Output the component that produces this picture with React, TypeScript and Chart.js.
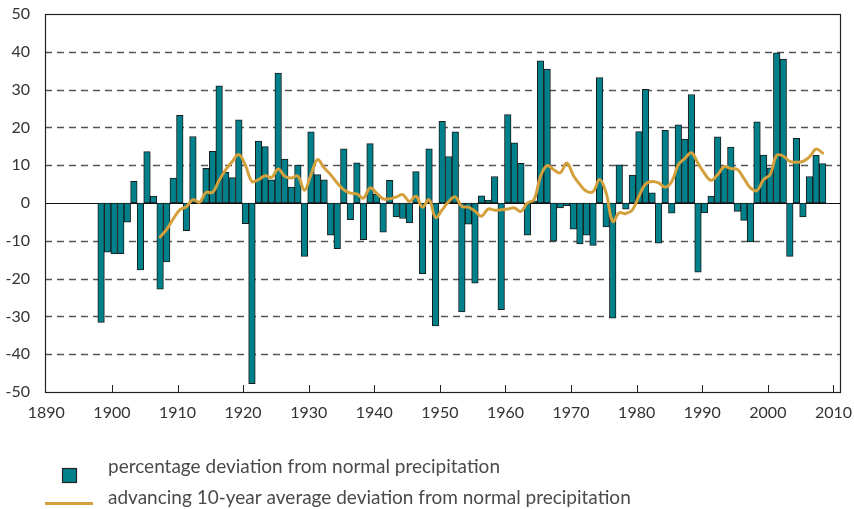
import React, { useEffect, useRef } from "react";
import { Chart, registerables } from "chart.js";

Chart.register(...registerables);

// ---------- data ----------
const firstYear = 1898;
const precipDeviation: number[] = [
  // 1898-1899
  -31.6, -13.0,
  // 1900s
  -13.5, -13.4, -5.1, 5.7, -17.7, 13.6, 1.8, -22.8, -15.6, 6.6,
  // 1910s
  23.2, -7.3, 17.6, 0.3, 9.2, 13.7, 31.0, 8.1, 6.7, 22.0,
  // 1920s
  -5.5, -47.8, 16.4, 14.9, 6.1, 34.4, 11.6, 4.2, 10.0, -14.1,
  // 1930s
  18.8, 7.5, 6.1, -8.5, -12.1, 14.3, -4.4, 10.6, -9.7, 15.7,
  // 1940s
  2.3, -7.7, 6.0, -3.7, -4.1, -5.3, 8.3, -18.7, 14.3, -32.5,
  // 1950s
  21.6, 12.3, 18.8, -28.8, -5.6, -21.2, 1.9, 0.8, 7.0, -28.2,
  // 1960s
  23.4, 15.9, 10.5, -8.5, 0.6, 37.6, 35.4, -10.1, -1.3, -0.7,
  // 1970s
  -6.9, -10.8, -8.5, -11.2, 33.2, -6.3, -30.5, 10.1, -1.6, 7.4,
  // 1980s
  18.9, 30.1, 2.7, -10.6, 19.2, -2.7, 20.7, 16.9, 28.7, -18.3,
  // 1990s
  -2.6, 1.8, 17.5, 9.5, 14.8, -2.2, -4.6, -10.3, 21.5, 12.7,
  // 2000s
  9.3, 39.7, 38.1, -14.1, 17.1, -3.7, 7.0, 12.7, 10.4,
];

const avgFirstYear = 1907;
const tenYearAverage: number[] = [
  // 1907-1909
  -9.0, -7.0, -4.2,
  // 1910s
  -1.8, -1.0, 0.9, 0.2, 2.8, 2.8, 6.0, 8.8, 11.0, 12.8,
  // 1920s
  10.0, 5.7, 6.2, 7.2, 6.8, 9.0, 7.1, 6.6, 7.1, 3.4,
  // 1930s
  7.5, 11.5, 9.3, 7.5, 5.3, 3.5, 2.6, 2.4, 1.3, 4.0,
  // 1940s
  2.6, 1.1, 1.1, 1.6, 2.2, 0.4, 1.8, -1.1, 0.9, -3.8,
  // 1950s
  -1.8, 0.4, 1.6, -0.9, -1.1, -2.2, -3.5, -1.6, -1.9, -1.8,
  // 1960s
  -1.6, -1.3, -2.2, 0.0, 0.9, 7.1, 9.9, 8.8, 8.0, 10.6,
  // 1970s
  7.3, 4.9, 3.1, 3.0, 6.2, 2.6, -4.9, -2.6, -2.8, -1.8,
  // 1980s
  1.8, 5.0, 5.7, 5.3, 4.2, 5.7, 10.1, 11.8, 13.3, 10.5,
  // 1990s
  7.8, 6.0, 7.5, 9.6, 9.1, 8.9, 6.5, 4.0, 3.3, 6.2,
  // 2000s
  7.5, 12.6, 12.4, 11.0, 10.8, 11.0, 12.2, 14.3, 13.2,
];

const xTickYears: number[] = [1890, 1900, 1910, 1920, 1930, 1940, 1950, 1960, 1970, 1980, 1990, 2000, 2010];
const yTickValues: number[] = [-50, -40, -30, -20, -10, 0, 10, 20, 30, 40, 50];

const barLabel = "percentage deviation from normal precipitation";
const lineLabel = "advancing 10-year average deviation from normal precipitation";

// ---------- style ----------
const TEAL = "#00808a";
const GOLD = "#d4a03c";
const FONT = "Lato, 'Open Sans', sans-serif";
const BAR_OFFSET = 0.35; // bars sit slightly right of the year mark

const W = 854;
const H = 509;

const decorPlugin = {
  id: "decor",
  beforeDatasetsDraw(chart: any) {
    const { ctx, chartArea, scales } = chart;
    const { left, right } = chartArea;
    const y = scales.y;
    ctx.save();
    ctx.setLineDash([7, 5]);
    ctx.strokeStyle = "#555";
    ctx.lineWidth = 1.3;
    yTickValues.forEach((v) => {
      if (v === 0 || v === -50 || v === 50) return;
      const py = Math.round(y.getPixelForValue(v)) + 0.5;
      ctx.beginPath();
      ctx.moveTo(left, py);
      ctx.lineTo(right, py);
      ctx.stroke();
    });
    ctx.setLineDash([]);
    ctx.strokeStyle = "#111";
    ctx.lineWidth = 1;
    const pz = Math.round(y.getPixelForValue(0)) + 0.5;
    ctx.beginPath();
    ctx.moveTo(left, pz);
    ctx.lineTo(right, pz);
    ctx.stroke();
    ctx.restore();
  },
  afterDraw(chart: any) {
    const { ctx, chartArea, scales } = chart;
    const { left, right, top, bottom } = chartArea;
    const x = scales.x;
    ctx.save();
    // frame
    ctx.strokeStyle = "#222";
    ctx.lineWidth = 1.2;
    ctx.strokeRect(Math.round(left) + 0.5, Math.round(top) + 0.5, Math.round(right - left), Math.round(bottom - top));
    // inward x ticks
    ctx.lineWidth = 1;
    xTickYears.forEach((t) => {
      const px = Math.round(x.getPixelForValue(t)) + 0.5;
      if (px <= left + 2 || px >= right - 2) return;
      ctx.beginPath();
      ctx.moveTo(px, bottom);
      ctx.lineTo(px, bottom - 7);
      ctx.stroke();
    });

    // legend
    const ds = chart.data.datasets;
    ctx.font = `19px ${FONT}`;
    ctx.textBaseline = "alphabetic";
    ctx.textAlign = "left";
    // bar entry
    ctx.fillStyle = ds[1].backgroundColor;
    ctx.fillRect(62, 468, 15, 15);
    ctx.strokeStyle = "#222";
    ctx.lineWidth = 1.2;
    ctx.strokeRect(62.5, 468.5, 14, 14);
    ctx.fillStyle = "#4a4a4a";
    ctx.fillText(ds[1].label, 108, 473);
    // line entry
    ctx.strokeStyle = ds[0].borderColor;
    ctx.lineWidth = 3;
    ctx.beginPath();
    ctx.moveTo(45, 503.5);
    ctx.lineTo(93, 503.5);
    ctx.stroke();
    ctx.fillText(ds[0].label, 108, 504);
    ctx.restore();
  },
};

export default function App() {
  const ref = useRef<HTMLCanvasElement | null>(null);

  useEffect(() => {
    if (!ref.current) return;
    const barData = precipDeviation.map((v, i) => ({ x: firstYear + i + BAR_OFFSET, y: v }));
    const lineData = tenYearAverage.map((v, i) => ({ x: avgFirstYear + i + BAR_OFFSET, y: v }));

    const chart = new Chart(ref.current, {
      type: "bar",
      data: {
        datasets: [
          {
            type: "line",
            label: lineLabel,
            data: lineData,
            borderColor: GOLD,
            borderWidth: 3,
            pointRadius: 0,
            tension: 0.4,
            fill: false,
            order: 0,
            borderCapStyle: "round",
            borderJoinStyle: "round",
          } as any,
          {
            type: "bar",
            label: barLabel,
            data: barData,
            backgroundColor: TEAL,
            borderColor: "#1a1a1a",
            borderWidth: 1,
            borderSkipped: false,
            barPercentage: 1,
            categoryPercentage: 1,
            order: 1,
          } as any,
        ],
      },
      options: {
        responsive: false,
        animation: false,
        events: [],
        layout: { padding: { top: 14, right: 14, bottom: 0, left: 0 } },
        plugins: {
          legend: { display: false },
          tooltip: { enabled: false },
          title: { display: false },
        },
        scales: {
          x: {
            type: "linear",
            min: 1889.8,
            max: 2011,
            offset: false,
            grid: { display: false, drawTicks: false },
            border: { display: false },
            ticks: {
              padding: 11,
              color: "#333",
              font: { family: FONT, size: 16 },
              maxRotation: 0,
              autoSkip: false,
              includeBounds: false,
              callback: (v: any) => String(v),
            },
            afterBuildTicks: (scale: any) => {
              scale.ticks = xTickYears.map((v) => ({ value: v }));
            },
            afterFit: (scale: any) => {
              scale.height = H - 392;
              scale.paddingLeft = 0;
              scale.paddingRight = 0;
            },
          },
          y: {
            type: "linear",
            min: -50,
            max: 50,
            grid: { display: false, drawTicks: false },
            border: { display: false },
            ticks: {
              stepSize: 10,
              padding: 15,
              color: "#333",
              font: { family: FONT, size: 16 },
              callback: (v: any) => String(v),
            },
            afterFit: (scale: any) => {
              scale.width = 45;
              scale.paddingTop = 0;
              scale.paddingBottom = 0;
            },
          },
        },
      },
      plugins: [decorPlugin],
    });
    return () => chart.destroy();
  }, []);

  return (
    <div style={{ position: "absolute", left: 0, top: 0, width: W, height: H, background: "#fff" }}>
      <canvas ref={ref} width={W} height={H} style={{ width: W, height: H, display: "block" }} />
    </div>
  );
}
